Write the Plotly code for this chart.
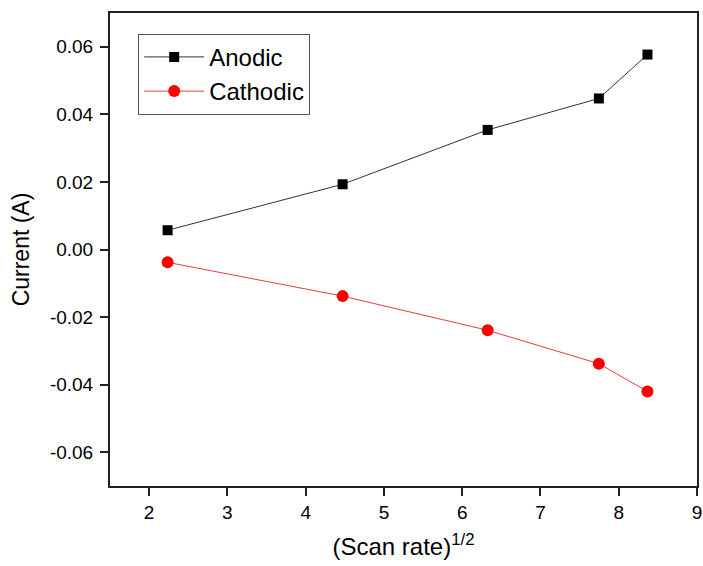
import plotly.graph_objects as go

x_vals = [2.236, 4.472, 6.325, 7.746, 8.367]
anodic = [0.0057, 0.0193, 0.0354, 0.0447, 0.0577]
cathodic = [-0.0038, -0.0138, -0.0239, -0.0338, -0.0420]

fig = go.Figure()
fig.add_trace(go.Scatter(x=x_vals, y=anodic, mode="lines+markers", name="Anodic",
                         line=dict(color="#333333", width=1),
                         marker=dict(symbol="square", size=10, color="black")))
fig.add_trace(go.Scatter(x=x_vals, y=cathodic, mode="lines+markers", name="Cathodic",
                         line=dict(color="#e04040", width=1),
                         marker=dict(symbol="circle", size=12, color="#ff0000")))

font = "Liberation Sans, Arial, sans-serif"
fig.update_layout(
    width=703, height=566,
    margin=dict(l=110, r=6, t=13, b=80, autoexpand=False),
    plot_bgcolor="white", paper_bgcolor="white",
    font=dict(family=font, color="black", size=19),
    showlegend=True,
    legend=dict(x=0.048, y=0.956, xanchor="left", yanchor="top",
                bordercolor="#555555", borderwidth=1, bgcolor="white",
                font=dict(size=24), tracegroupgap=0, itemwidth=60),
    xaxis=dict(range=[1.5, 9], tickmode="array", tickvals=[2, 3, 4, 5, 6, 7, 8, 9],
               ticks="outside", ticklen=8, tickwidth=2, tickcolor="#222",
               showline=True, linecolor="#222", linewidth=2, mirror=True,
               showgrid=False, zeroline=False, automargin=False,
               tickfont=dict(size=19),
               title=dict(text="(Scan rate)<sup>1/2</sup>", font=dict(size=24), standoff=16)),
    yaxis=dict(range=[-0.07, 0.07], tickmode="array",
               tickvals=[-0.06, -0.04, -0.02, 0.0, 0.02, 0.04, 0.06],
               ticktext=["-0.06", "-0.04", "-0.02", "0.00", "0.02", "0.04", "0.06"],
               ticks="outside", ticklen=8, tickwidth=2, tickcolor="#222",
               showline=True, linecolor="#222", linewidth=2, mirror=True,
               showgrid=False, zeroline=False, automargin=False,
               ticklabelstandoff=3,
               tickfont=dict(size=19),
               title=dict(text="Current (A)", font=dict(size=23), standoff=14)),
)

fig.write_html("out.html")
